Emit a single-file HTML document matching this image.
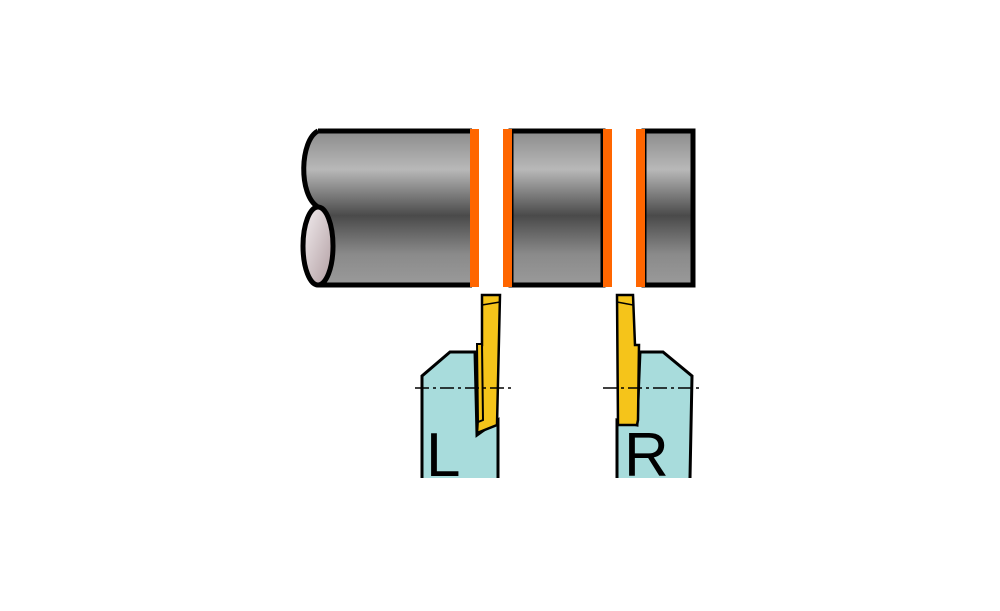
<!DOCTYPE html>
<html><head><style>html,body{margin:0;padding:0;background:#fff;}svg{display:block}</style></head>
<body>
<svg width="1000" height="611" viewBox="0 0 1000 611" xmlns="http://www.w3.org/2000/svg">
<defs>
<linearGradient id="g" gradientUnits="userSpaceOnUse" x1="0" y1="131" x2="0" y2="285">
<stop offset="0" stop-color="#8c8c8c"/>
<stop offset="0.25" stop-color="#b8b8b8"/>
<stop offset="0.55" stop-color="#4a4a4a"/>
<stop offset="0.8" stop-color="#8a8a8a"/>
<stop offset="1" stop-color="#9a9a9a"/>
</linearGradient>
<linearGradient id="e" x1="0" y1="0" x2="1" y2="1">
<stop offset="0" stop-color="#f3eef0"/>
<stop offset="1" stop-color="#b09ca0"/>
</linearGradient>
</defs>
<path d="M318,131 C300,140 298,195 318,207 L318,285 L472,285 L472,131 Z" fill="url(#g)"/>
<path d="M318,131 C300,140 298,195 318,207" fill="none" stroke="#000" stroke-width="5"/>
<line x1="318" y1="131" x2="472" y2="131" stroke="#000" stroke-width="5"/>
<line x1="318" y1="285" x2="472" y2="285" stroke="#000" stroke-width="5"/>
<ellipse cx="318" cy="246" rx="15" ry="39" fill="url(#e)" stroke="#000" stroke-width="5"/>
<rect x="470" y="129" width="9" height="158" fill="#ff6600"/>
<rect x="511" y="131" width="92" height="154" fill="url(#g)" stroke="#000" stroke-width="5"/>
<rect x="503" y="129" width="9" height="158" fill="#ff6600"/>
<rect x="603" y="129" width="9" height="158" fill="#ff6600"/>
<rect x="644" y="131" width="49" height="154" fill="url(#g)" stroke="#000" stroke-width="5"/>
<rect x="636" y="129" width="9" height="158" fill="#ff6600"/>
<!-- L holder -->
<path d="M422,478 L422,376 L450,352 L475,352 L477,435 L498,420 L498,478" fill="#a8dcdc" stroke="#000" stroke-width="3"/>
<path d="M482,295 L500,295 L497,425 L477,433 L479,400 L478,345 L482,345 Z" fill="#f5c41a" stroke="#000" stroke-width="2.5"/>
<path d="M477,344 L482,344 L483,420 L478,422 Z" fill="#f5c41a" stroke="#000" stroke-width="2"/>
<line x1="482" y1="305" x2="500" y2="302" stroke="#000" stroke-width="1.5"/>
<line x1="415" y1="388" x2="512" y2="388" stroke="#000" stroke-width="1.5" stroke-dasharray="14,4,3,4"/>
<text x="426" y="476" font-family="Liberation Sans, sans-serif" font-size="62" fill="#000">L</text>
<!-- R holder -->
<path d="M617,478 L617,420 L637,425 L640,352 L663,352 L692,376 L690,478" fill="#a8dcdc" stroke="#000" stroke-width="3"/>
<path d="M617,295 L633,295 L635,345 L639,345 L638,420 L637,425 L618,425 Z" fill="#f5c41a" stroke="#000" stroke-width="2.5"/>
<line x1="617" y1="302" x2="633" y2="305" stroke="#000" stroke-width="1.5"/>
<line x1="603" y1="388" x2="700" y2="388" stroke="#000" stroke-width="1.5" stroke-dasharray="14,4,3,4"/>
<text x="624" y="476" font-family="Liberation Sans, sans-serif" font-size="62" fill="#000">R</text>
</svg>
</body></html>
